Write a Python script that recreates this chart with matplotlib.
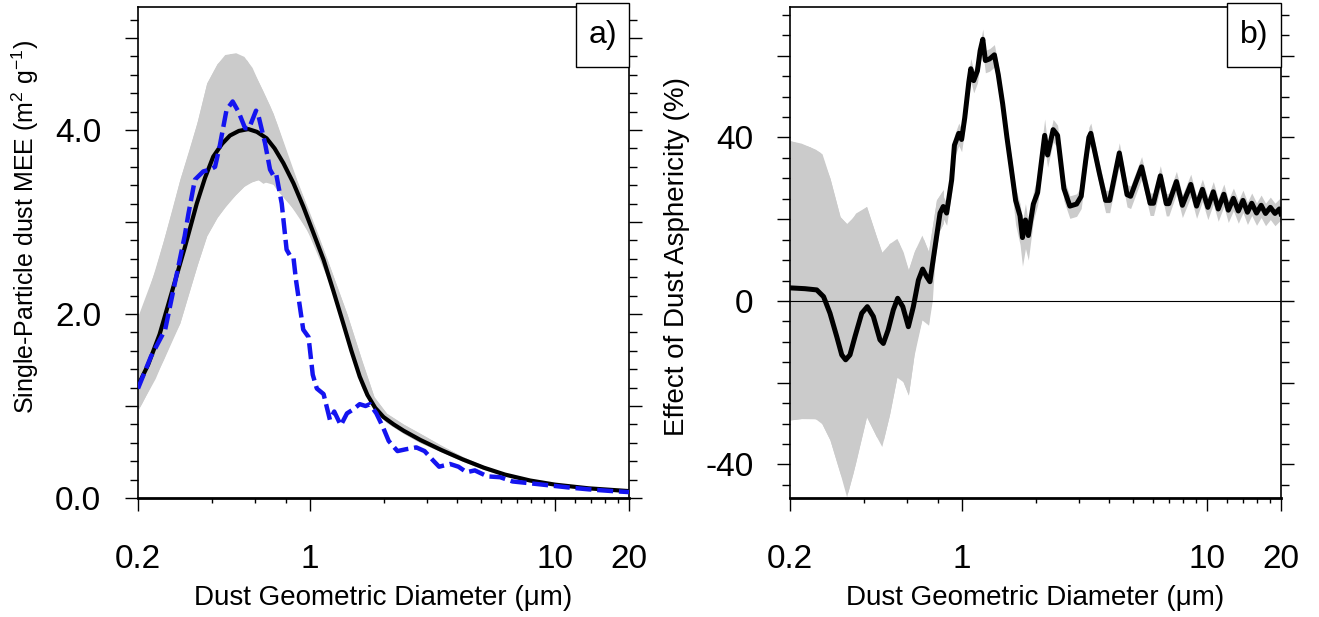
import numpy as np
import matplotlib
matplotlib.use('Agg')
import matplotlib.pyplot as plt
from matplotlib.ticker import FixedLocator, MultipleLocator, FuncFormatter, NullFormatter
from matplotlib.patches import Rectangle

plt.rcParams['font.family'] = ['Liberation Sans', 'DejaVu Sans']
plt.rcParams['mathtext.fontset'] = 'custom'
plt.rcParams['mathtext.rm'] = 'Liberation Sans'
plt.rcParams['mathtext.it'] = 'Liberation Sans:italic'

# ---- panel a: single-particle MEE ----
a_mean_d = [0.2, 0.22, 0.245, 0.279, 0.31, 0.347, 0.375, 0.405, 0.44, 0.474, 0.515, 0.563,
            0.61, 0.668, 0.72, 0.782, 0.86, 0.942, 1.03, 1.14, 1.25, 1.37, 1.48, 1.6, 1.72,
            1.85, 2.0, 2.2, 2.42, 2.83, 3.45, 4.2, 5.12, 6.24, 7.91, 10, 13.7, 20]
a_mean = [1.22, 1.45, 1.78, 2.30, 2.72, 3.20, 3.48, 3.71, 3.85, 3.94, 3.99, 4.01,
          3.98, 3.91, 3.80, 3.64, 3.42, 3.17, 2.90, 2.59, 2.25, 1.90, 1.60, 1.32, 1.12,
          0.98, 0.88, 0.80, 0.73, 0.63, 0.52, 0.42, 0.33, 0.255, 0.19, 0.145, 0.105, 0.075]

a_up_d = [0.2, 0.207, 0.254, 0.296, 0.347, 0.381, 0.42, 0.451, 0.5, 0.54, 0.583, 0.615,
          0.711, 0.832, 0.973, 1.21, 1.42, 1.63, 1.83, 2.06, 2.42, 2.83, 3.45, 4.2, 5.12,
          6.24, 7.91, 10, 13.7, 20]
a_upper = [1.98, 2.01, 2.80, 3.46, 4.07, 4.51, 4.72, 4.82, 4.84, 4.80, 4.68, 4.54,
           4.18, 3.64, 3.17, 2.51, 2.0, 1.50, 1.10, 0.92, 0.80, 0.70, 0.57, 0.45, 0.35,
           0.27, 0.20, 0.155, 0.11, 0.08]

a_lo_d = [0.2, 0.235, 0.275, 0.296, 0.323, 0.35, 0.381, 0.42, 0.474, 0.555, 0.617, 0.646,
          0.69, 0.735, 0.886, 1.07, 1.19, 1.42, 1.63, 1.83, 2.06, 2.42, 2.83, 3.45, 4.2,
          5.12, 6.24, 7.91, 10, 13.7, 20]
a_lower = [0.96, 1.30, 1.73, 1.90, 2.24, 2.55, 2.85, 3.05, 3.24, 3.42, 3.46, 3.42,
           3.46, 3.35, 3.10, 2.72, 2.38, 1.70, 1.20, 0.95, 0.82, 0.70, 0.60, 0.50, 0.40,
           0.31, 0.24, 0.18, 0.135, 0.10, 0.07]

a_sph_d = [0.2, 0.226, 0.258, 0.288, 0.31, 0.321, 0.341, 0.369, 0.393, 0.412, 0.43, 0.459,
           0.486, 0.513, 0.546, 0.567, 0.605, 0.621, 0.658, 0.69, 0.71, 0.73, 0.77, 0.806,
           0.83, 0.859, 0.88, 0.942, 0.99, 1.03, 1.07, 1.14, 1.21, 1.26, 1.34, 1.42, 1.50,
           1.60, 1.69, 1.76, 1.87, 1.99, 2.10, 2.28, 2.47, 2.72, 2.94, 3.18, 3.37, 3.73,
           4.04, 4.36, 4.71, 5.30, 5.97, 6.71, 7.91, 9.27, 11.3, 13.7, 16.7, 20]
a_sph = [1.19, 1.54, 1.83, 2.44, 2.85, 3.09, 3.46, 3.55, 3.57, 3.60, 3.82, 4.22,
         4.31, 4.20, 4.02, 4.02, 4.21, 4.14, 3.86, 3.57, 3.51, 3.53, 3.20, 2.70,
         2.64, 2.62, 2.37, 1.83, 1.75, 1.34, 1.19, 1.13, 0.85, 0.94, 0.79, 0.92, 0.96,
         1.02, 1.00, 1.02, 0.92, 0.77, 0.62, 0.51, 0.53, 0.55, 0.51, 0.41, 0.34, 0.37,
         0.34, 0.28, 0.30, 0.235, 0.226, 0.18, 0.16, 0.14, 0.115, 0.094, 0.077, 0.064]

# ---- panel b: effect of asphericity (%) ----
b_d = [0.2, 0.23, 0.257, 0.274, 0.291, 0.310, 0.325, 0.337, 0.351, 0.368, 0.392, 0.413,
       0.437, 0.465, 0.48, 0.502, 0.527, 0.549, 0.576, 0.607, 0.636, 0.667, 0.694, 0.721,
       0.743, 0.78, 0.817, 0.842, 0.869, 0.911, 0.935, 0.974, 1.0, 1.03, 1.07, 1.09, 1.12,
       1.16, 1.19, 1.22, 1.25, 1.30, 1.36, 1.41, 1.47, 1.53, 1.59, 1.66, 1.73, 1.77, 1.82,
       1.87, 1.96, 2.04, 2.18, 2.24, 2.36, 2.46, 2.61, 2.76, 2.94, 3.07, 3.20, 3.30,
       3.36, 3.64, 3.86, 4.01, 4.39, 4.72, 4.88, 5.41, 5.86, 6.05, 6.45, 6.82, 6.98, 7.50,
       7.93, 8.58, 9.06, 9.57, 10.07, 10.6, 11.1, 11.7, 12.2, 12.8, 13.4, 14.0, 14.6,
       15.2, 15.9, 16.6, 17.3, 18.1, 18.9, 19.7, 20.0]
b_eff = [3.2, 3.0, 2.7, 1.05, -3.0, -8.7, -13.2, -14.4, -13.2, -8.7, -3.0, -1.4,
         -3.8, -9.5, -10.4, -7.1, -2.2, 0.65, -1.4, -6.3, -1.4, 5.1, 7.8, 5.9,
         4.7, 13.3, 21.5, 23.1, 21.5, 29.6, 38.1, 41.0, 39.5, 44.8, 53.5, 56.8, 53.9,
         56.3, 61.2, 64.0, 58.8, 59.2, 60.2, 55.4, 48.2, 40.0, 32.8, 24.6, 20.8, 15.5, 19.8,
         16.0, 23.7, 26.5, 40.5, 35.7, 41.9, 40.5, 27.5, 23.2, 23.7, 25.6, 34.2, 40.0,
         41.0, 31.3, 24.6, 24.6, 36.2, 26.0, 25.6, 32.8, 23.9, 23.9, 30.6, 23.8, 23.8, 29.2,
         23.4, 28.5, 23.2, 27.3, 22.9, 26.7, 22.5, 26.1, 22.2, 25.1, 22.0, 24.6, 21.7,
         23.9, 21.5, 23.4, 21.4, 22.9, 21.4, 22.5, 21.3]
# narrow spread of the shaded range around the mean (above / below)
b_hi = [2.5] * 38 + [2.0] + [2.5] * 7 + [3.0, 3.0, 3.0, 4.0, 4.0, 3.0, 3.0, 4.0, 4.0] + [2.5] * 44
b_lo = [3.0] * 46 + [4.0, 6.0, 7.0, 7.0, 7.0, 6.0, 4.0] + [3.0] * 46
# broad shaded range at small sizes
b_up_d = [0.2, 0.222, 0.254, 0.27, 0.291, 0.32, 0.344, 0.37, 0.41, 0.45, 0.48, 0.507,
          0.545, 0.578, 0.607, 0.64, 0.689, 0.733, 0.79, 0.842]
b_upper = [39.2, 38.6, 37.1, 36.0, 30.0, 20.6, 18.6, 21.5, 23.1, 15.7, 10.8, 14.0,
           15.3, 12.0, 7.6, 12.0, 16.1, 12.1, 24.7, 27.2]
b_lo_d = [0.2, 0.241, 0.265, 0.291, 0.32, 0.34, 0.361, 0.41, 0.45, 0.473, 0.51, 0.552,
          0.607, 0.65, 0.70, 0.733, 0.76, 0.79, 0.842]
b_lower = [-29.1, -28.5, -29.1, -34.0, -42.2, -47.9, -42.2, -28.3, -33.2, -35.6, -27.5,
           -16.9, -23.0, -10.4, -3.0, -5.9, 0.2, 15.7, 19.0]

x_major = [0.2, 1, 10, 20]
x_minor = [0.4, 0.6, 0.8, 2, 3, 4, 5, 6, 7, 8, 9, 12, 14, 16, 18]
xlabel = 'Dust Geometric Diameter (\u03bcm)'

gray = '#cbcbcb'

fig = plt.figure(figsize=(13.19, 6.17), dpi=100)
axa = fig.add_axes([138 / 1319, 119 / 617, 491 / 1319, 491 / 617])
axb = fig.add_axes([790 / 1319, 119 / 617, 491 / 1319, 491 / 617])


def style(ax, ylim, ymajor, yminor, ylabels, fmt):
    ax.set_xscale('log')
    ax.set_xlim(0.2, 20)
    ax.set_ylim(*ylim)
    ax.xaxis.set_major_locator(FixedLocator(x_major))
    ax.xaxis.set_minor_locator(FixedLocator(x_minor))
    ax.xaxis.set_major_formatter(FuncFormatter(lambda v, p: '%g' % v))
    ax.xaxis.set_minor_formatter(NullFormatter())
    ax.yaxis.set_major_locator(MultipleLocator(ymajor))
    ax.yaxis.set_minor_locator(MultipleLocator(yminor))
    ax.yaxis.set_major_formatter(FuncFormatter(
        lambda v, p: (fmt % v) if any(abs(v - l) < 1e-6 for l in ylabels) else ''))
    ax.tick_params(which='major', direction='out', length=9.4, width=1.0,
                   labelsize=24, right=True, top=False)
    ax.tick_params(axis='x', which='major', pad=24)
    ax.tick_params(axis='y', which='major', pad=17)
    ax.tick_params(axis='x', which='minor', direction='out', length=3.8, width=1.0,
                   top=False)
    ax.tick_params(axis='y', which='minor', direction='out', length=5.5, width=1.0,
                   right=True)
    for s in ax.spines.values():
        s.set_linewidth(1.2)
    ax.spines['bottom'].set_linewidth(2.0)


def panel_tag(ax, txt, x0):
    ax.add_patch(Rectangle((x0, 0.878), 1 - x0, 0.13, transform=ax.transAxes,
                           facecolor='white', edgecolor='black', lw=1.0,
                           zorder=6, clip_on=False))
    ax.text((x0 + 1) / 2, 0.942, txt, transform=ax.transAxes, ha='center',
            va='center', fontsize=23, zorder=7)


# panel a
axa.fill_between(a_up_d, a_upper, np.interp(a_up_d, a_lo_d, a_lower),
                 color=gray, lw=0, zorder=1)
axa.fill_between(a_lo_d, np.interp(a_lo_d, a_up_d, a_upper), a_lower,
                 color=gray, lw=0, zorder=1)
axa.plot(a_mean_d, a_mean, color='black', lw=3.0, zorder=3)
axa.plot(a_sph_d, a_sph, color='#1414f0', lw=3.2, ls=(0, (3.6, 1.3)), zorder=4)
style(axa, (0, 5.337), 1.0, 0.2, [0, 2, 4], '%.1f')
panel_tag(axa, 'a)', 0.892)

# panel b
axb.fill_between(b_up_d, b_upper, np.interp(b_up_d, b_lo_d, b_lower),
                 color=gray, lw=0, zorder=1)
axb.fill_between(b_lo_d, np.interp(b_lo_d, b_up_d, b_upper), b_lower,
                 color=gray, lw=0, zorder=1)
b_top = np.array(b_eff) + np.array(b_hi)
b_bot = np.array(b_eff) - np.array(b_lo)
axb.fill_between(b_d, b_bot, b_top, color=gray, lw=0, zorder=1)
axb.axhline(0, color='black', lw=0.8, zorder=2)
axb.plot(b_d, b_eff, color='black', lw=3.6, zorder=3, solid_joinstyle='round')
style(axb, (-48.2, 71.9), 20, 5, [-40, 0, 40], '%d')
panel_tag(axb, 'b)', 0.890)

fig.text(383.5 / 1319, 19 / 617, xlabel, ha='center', va='center', fontsize=20)
fig.text(1035.5 / 1319, 19 / 617, xlabel, ha='center', va='center', fontsize=20)
fig.text(25 / 1319, 1 - 227 / 617, 'Single-Particle dust MEE (m$^{2}$ g$^{-1}$)',
         rotation=90, ha='center', va='center', fontsize=18)
fig.text(677 / 1319, 1 - 256 / 617, 'Effect of Dust Asphericity (%)',
         rotation=90, ha='center', va='center', fontsize=20)

fig.savefig('out.png', dpi=100)
